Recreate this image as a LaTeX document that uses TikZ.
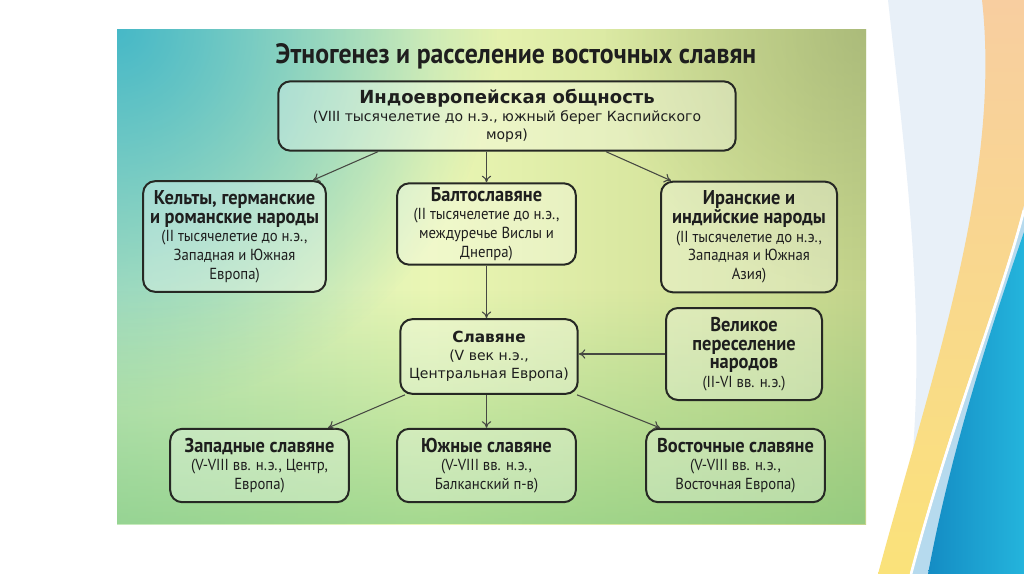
\documentclass[tikz,border=0pt]{standalone}
\usepackage{fontspec}
\setmainfont{PT Sans}
\newfontfamily\narrowface[FakeStretch=0.92]{PT Sans}
\newfontfamily\wideface{DejaVu Sans}
\usepackage{xcolor}
\definecolor{boxline}{RGB}{38,40,36}
\definecolor{arrowgray}{RGB}{70,72,66}
\definecolor{inktext}{RGB}{30,30,30}
\definecolor{panelteal}{RGB}{64,182,200}
\definecolor{panelmint}{RGB}{140,214,200}
\definecolor{panelpale}{RGB}{234,246,180}
\definecolor{panellime}{RGB}{204,220,146}
\definecolor{panelolive}{RGB}{148,164,106}
\definecolor{panelgreen}{RGB}{120,198,120}
\definecolor{swpale}{RGB}{232,240,248}
\definecolor{swpeach}{RGB}{248,206,160}
\definecolor{swyellow}{RGB}{250,226,122}
\definecolor{swlight}{RGB}{182,218,238}
\definecolor{swdeep}{RGB}{20,140,196}
\definecolor{swcyan}{RGB}{36,180,220}
\usetikzlibrary{arrows.meta, positioning, fadings}

\pgfdeclarehorizontalshading{panelshade}{100bp}{color(0bp)=(panelmint); color(20bp)=(panelmint!50!panelpale);
  color(46bp)=(panelpale); color(70bp)=(panellime); color(100bp)=(panelolive)}
\tikzfading[name=cornerfade, inner color=transparent!0, outer color=transparent!100]

\newcommand{\headfont}{\fontsize{15}{17}\selectfont\bfseries}
\newcommand{\subfont}{\narrowface\fontsize{12}{14}\selectfont}
\newcommand{\wideheadfont}{\wideface\fontsize{13.5}{15.5}\selectfont\bfseries}
\newcommand{\widesubfont}{\wideface\fontsize{10.5}{13.5}\selectfont}

\tikzset{
  slavbox/.style={draw=boxline, line width=1.5pt, rounded corners=9pt,
    fill=white, fill opacity=0.3, text opacity=1, text=inktext,
    align=center, inner sep=2pt, font=\subfont},
  flow/.style={-{To[length=5pt,width=7pt]}, arrowgray, line width=0.8pt}
}

\begin{document}
\begin{tikzpicture}[x=0.75pt, y=-0.75pt]
\useasboundingbox (0,0) rectangle (1024,574);
\fill[white] (0,0) rectangle (1024,574);

% === Slide decoration (right) ===
\fill[swpale] (888,0) .. controls (910,200) and (935,380) .. (896,574) -- (1024,574) -- (1024,0) -- cycle;
\shade[top color=swpeach, bottom color=swyellow]
  (982,0) .. controls (1002,180) and (930,380) .. (878,574) -- (910,574)
  .. controls (950,420) and (1000,300) .. (1024,205) -- (1024,0) -- cycle;
\fill[swlight] (1024,212) .. controls (1000,305) and (952,425) .. (912,574) -- (1024,574) -- cycle;
\draw[white, line width=2pt] (1024,210) .. controls (1000,303) and (951,423) .. (911,574);
\shade[left color=swdeep, right color=swcyan]
  (1024,232) .. controls (992,325) and (952,445) .. (928,574) -- (1024,574) -- cycle;

% === Panel ===
\shade[shading=panelshade] (117,30) rectangle (866,524);
\begin{scope}
  \clip (117,30) rectangle (866,524);
  \fill[panelteal, path fading=cornerfade, opacity=0.95] (117,30) circle (380);
  \fill[panelgreen, path fading=north, opacity=0.6] (117,290) rectangle (866,524);
  \fill[panelolive, path fading=cornerfade, opacity=0.5] (866,30) circle (260);
\end{scope}

% Title
\node[font=\narrowface\fontsize{21}{25}\selectfont\bfseries, text=inktext] (title) at (516,56)
  {Этногенез и расселение восточных славян};

% === Top level ===
\node[slavbox, minimum width=343pt, minimum height=52pt, font=\widesubfont] (indo) at (507,116)
  {{\wideheadfont Индоевропейская общность}\\(VIII тысячелетие до н.э., южный берег Каспийского\\моря)};

% === Second level ===
\node[slavbox, minimum width=137pt, minimum height=83pt] (kelts) at (234.5,236.5)
  {{\headfont Кельты, германские}\\{\headfont и романские народы}\\(II тысячелетие до н.э.,\\Западная и Южная\\Европа)};
\node[slavbox, minimum width=134pt, minimum height=61pt] (balto) at (486.5,224)
  {{\headfont Балтославяне}\\(II тысячелетие до н.э.,\\междуречье Вислы и\\Днепра)};
\node[slavbox, minimum width=132pt, minimum height=83pt] (iran) at (749,237)
  {{\headfont Иранские и}\\{\headfont индийские народы}\\(II тысячелетие до н.э.,\\Западная и Южная\\Азия)};

% === Third level ===
\node[slavbox, minimum width=133pt, minimum height=56pt, font=\widesubfont] (slavs) at (489,356.5)
  {{\wideface\fontsize{11.5}{15}\selectfont\bfseries Славяне}\\(V век н.э.,\\Центральная Европа)};
\node[slavbox, minimum width=117pt, minimum height=69pt] (migration) at (744,354)
  {{\headfont Великое}\\{\headfont переселение}\\{\headfont народов}\\(II-VI вв. н.э.)};

% === Bottom level ===
\node[slavbox, minimum width=134pt, minimum height=55pt] (west) at (259.5,465.5)
  {{\headfont Западные славяне}\\(V-VIII вв. н.э., Центр,\\Европа)};
\node[slavbox, minimum width=134pt, minimum height=55pt] (south) at (486.5,465.5)
  {{\headfont Южные славяне}\\(V-VIII вв. н.э.,\\Балканский п-в)};
\node[slavbox, minimum width=134pt, minimum height=55pt] (east) at (735.5,465.5)
  {{\headfont Восточные славяне}\\(V-VIII вв. н.э.,\\Восточная Европа)};

% Arrows
\draw[flow] ([xshift=-96.75pt]indo.south) -- ([xshift=58.9pt]kelts.north);
\draw[flow] (indo.south -| balto.north) -- (balto.north);
\draw[flow] ([xshift=74.25pt]indo.south) -- ([xshift=-58.5pt]iran.north);
\draw[flow] (balto.south) -- (balto.south |- slavs.north);
\draw[flow] (migration.west) -- (slavs.east |- migration.west);
\draw[flow] ([xshift=-63pt]slavs.south) -- ([xshift=51.4pt]west.north);
\draw[flow] (slavs.south -| south.north) -- (south.north);
\draw[flow] ([xshift=66pt]slavs.south) -- ([xshift=-56.6pt]east.north);

\end{tikzpicture}
\end{document}
